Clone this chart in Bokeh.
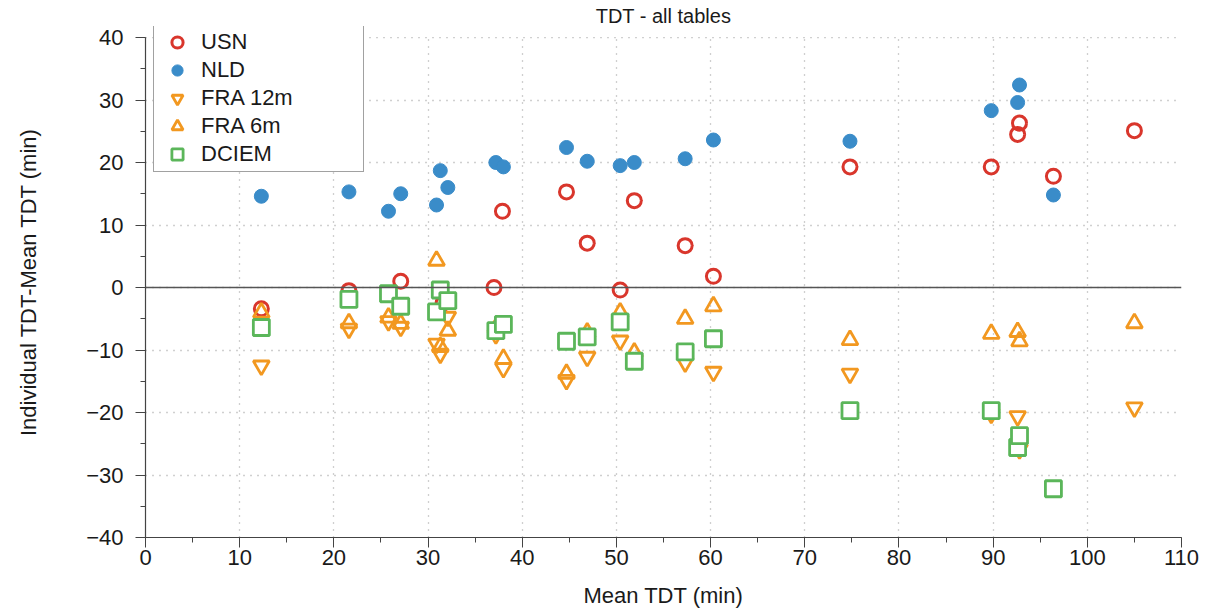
from bokeh.plotting import figure
from bokeh.models import (Range1d, SingleIntervalTicker, Span, Legend, LegendItem,
                          CustomJSTickFormatter, BoxAnnotation)
from bokeh.embed import file_html
from bokeh.resources import INLINE

# ---- data ----
usn_x = [12.3, 21.6, 27.1, 31.6, 37.0, 37.9, 44.7, 46.9, 50.4, 51.9, 57.3, 60.3, 74.8, 89.8, 92.6, 92.8, 96.4, 105.0]
usn_y = [-3.4, -0.5, 1.0, -2.5, 0.0, 12.2, 15.3, 7.1, -0.4, 13.9, 6.7, 1.8, 19.3, 19.3, 24.5, 26.3, 17.8, 25.1]

nld_x = [12.3, 21.6, 25.8, 27.1, 30.9, 31.3, 32.1, 37.2, 38.0, 44.7, 46.9, 50.4, 51.9, 57.3, 60.3, 74.8, 89.8, 92.6, 92.8, 96.4]
nld_y = [14.6, 15.3, 12.2, 15.0, 13.2, 18.7, 16.0, 20.0, 19.3, 22.4, 20.2, 19.5, 20.0, 20.6, 23.6, 23.4, 28.3, 29.6, 32.4, 14.8]

fra12_x = [12.3, 21.6, 25.8, 27.1, 30.9, 31.3, 32.1, 37.2, 38.0, 44.7, 46.9, 50.4, 51.9, 57.3, 60.3, 74.8, 89.8, 92.6, 92.8, 105.0]
fra12_y = [-12.5, -6.6, -5.4, -6.3, -9.0, -10.6, -4.7, -7.5, -12.9, -14.8, -11.1, -8.5, -11.5, -12.0, -13.5, -13.8, -20.2, -20.6, -25.9, -19.2]

fra6_x = [12.3, 21.6, 25.8, 27.1, 30.9, 31.3, 32.1, 37.2, 38.0, 44.7, 46.9, 50.4, 51.9, 57.3, 60.3, 74.8, 89.8, 92.6, 92.8, 105.0]
fra6_y = [-4.0, -5.7, -4.8, -5.8, 4.3, -9.5, -6.9, -6.5, -11.4, -13.8, -7.2, -4.0, -10.4, -5.0, -3.0, -8.4, -7.4, -7.1, -8.6, -5.7]

dciem_x = [12.3, 21.6, 25.8, 27.1, 30.9, 31.3, 32.1, 37.2, 38.0, 44.7, 46.9, 50.4, 51.9, 57.3, 60.3, 74.8, 89.8, 92.6, 92.8, 96.4]
dciem_y = [-6.4, -1.9, -1.0, -3.0, -3.9, -0.4, -2.1, -6.9, -5.9, -8.6, -7.9, -5.5, -11.8, -10.3, -8.2, -19.7, -19.7, -25.6, -23.7, -32.2]

Y_MIN, Y_MAX = -40, 40
X_MIN, X_MAX = 0, 110

RED = "#d9362c"
BLUE = "#3a8cc9"
ORANGE = "#f29820"
GREEN = "#5bb65a"
FONT = "Liberation Sans"
TXT = "#1a1a1a"
AX = "#444444"

# frame: 500 px for 80 units; 11 px of headroom above the top tick (for the legend box)
headroom = 11 * (Y_MAX - Y_MIN) / 500.0

p = figure(width=1200, height=611, output_backend="svg", toolbar_location=None,
           x_range=Range1d(X_MIN, X_MAX), y_range=Range1d(Y_MIN, Y_MAX + headroom),
           title="TDT - all tables",
           min_border_left=145, min_border_right=19, min_border_top=26, min_border_bottom=74)

p.title.align = "center"
p.title.text_font = FONT
p.title.text_font_size = "20px"
p.title.text_font_style = "normal"
p.title.text_color = TXT
p.title.standoff = 0
p.outline_line_color = None
p.background_fill_color = "white"

p.xaxis.ticker = SingleIntervalTicker(interval=10, num_minor_ticks=2)
p.yaxis.ticker = SingleIntervalTicker(interval=10, num_minor_ticks=2)
p.yaxis.bounds = (Y_MIN, Y_MAX)
p.yaxis.formatter = CustomJSTickFormatter(code="return String(tick).replace('-', '\u2212');")

for ax in (p.xaxis[0], p.yaxis[0]):
    ax.axis_line_color = AX
    ax.axis_line_width = 1.2
    ax.major_tick_line_color = AX
    ax.minor_tick_line_color = AX
    ax.major_tick_in = 0
    ax.major_tick_out = 10
    ax.minor_tick_in = 0
    ax.minor_tick_out = 5
    ax.major_label_text_font = FONT
    ax.major_label_text_font_size = "22px"
    ax.major_label_text_color = TXT
    ax.axis_label_text_font = FONT
    ax.axis_label_text_font_size = "22px"
    ax.axis_label_text_font_style = "normal"
    ax.axis_label_text_color = TXT

p.xaxis.axis_label = "Mean TDT (min)"
p.yaxis.axis_label = "Individual TDT-Mean TDT (min)"
p.xaxis.major_label_standoff = 2
p.xaxis.axis_label_standoff = 15
p.yaxis.major_label_standoff = 12
p.yaxis.axis_label_standoff = 42

for g in (p.xgrid[0], p.ygrid[0]):
    g.grid_line_color = "#a0a0a0"
    g.grid_line_dash = "1 6"
    g.grid_line_width = 1.3

# hide the grid in the headroom strip above the top tick
p.add_layout(BoxAnnotation(bottom=Y_MAX + 0.1, fill_color="white", fill_alpha=1.0, line_alpha=0))
p.add_layout(Span(location=0, dimension="width", line_color="#555555", line_width=1.5))

r_nld = p.scatter(nld_x, nld_y, marker="circle", size=14, fill_color=BLUE, line_color=BLUE, line_width=1)
r_usn = p.scatter(usn_x, usn_y, marker="circle", size=14, fill_color=None, line_color=RED, line_width=3)
r_f12 = p.scatter(fra12_x, fra12_y, marker="inverted_triangle", size=16, fill_color=None, line_color=ORANGE, line_width=2.8)
r_f6 = p.scatter(fra6_x, fra6_y, marker="triangle", size=16, fill_color=None, line_color=ORANGE, line_width=2.8)
r_dc = p.scatter(dciem_x, dciem_y, marker="square", size=16, fill_color="white", line_color=GREEN, line_width=2.8)

legend = Legend(items=[
    LegendItem(label="USN", renderers=[r_usn]),
    LegendItem(label="NLD", renderers=[r_nld]),
    LegendItem(label="FRA 12m", renderers=[r_f12]),
    LegendItem(label="FRA 6m", renderers=[r_f6]),
    LegendItem(label="DCIEM", renderers=[r_dc]),
], location=(8, 365))
legend.glyph_height = 28
legend.label_height = 28
legend.glyph_width = 40
legend.spacing = 0
legend.padding = 3
legend.margin = 0
legend.label_standoff = 4
legend.label_width = 159
legend.label_text_font = FONT
legend.label_text_font_size = "22px"
legend.label_text_color = TXT
legend.border_line_color = AX
legend.border_line_width = 1.2
legend.background_fill_color = "white"
legend.background_fill_alpha = 1.0
p.add_layout(legend)

open("out.html", "w").write(file_html(p, INLINE))
